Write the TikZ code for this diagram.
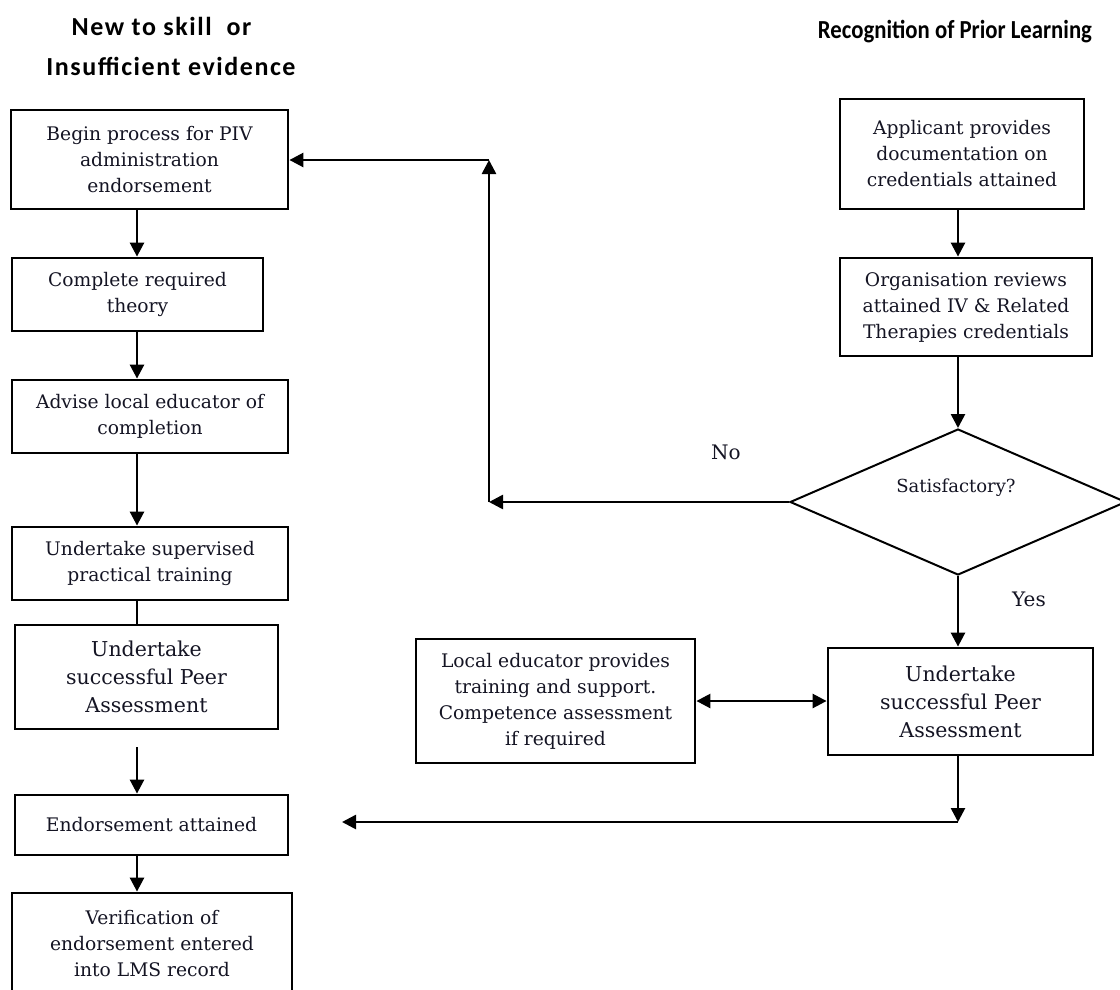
\documentclass[tikz,border=0pt]{standalone}
\usepackage{fontspec}
\setmainfont{DejaVu Serif}
\newfontfamily\titlefont{Carlito}
\newfontfamily\titlefontwide[LetterSpace=6]{Carlito}
\usetikzlibrary{arrows.meta,shapes.geometric}
\definecolor{ink}{RGB}{20,20,35}
\begin{document}
\begin{tikzpicture}[x=1pt,y=-1pt,
  box/.style={draw,line width=2.8pt,rectangle,inner sep=0pt,align=center,text=ink,
    font=\fontsize{18.7}{26}\selectfont},
  bigbox/.style={box,font=\fontsize{20.5}{28}\selectfont},
  conn/.style={line width=2.6pt},
  arr/.style={conn,-{Triangle[length=14pt,width=14pt]}},
  dblarr/.style={conn,{Triangle[length=14pt,width=14pt]}-{Triangle[length=14pt,width=14pt]}},
  lbl/.style={inner sep=0pt,text=ink,font=\fontsize{20}{24}\selectfont},
  decision/.style={draw,diamond,line width=2pt,inner sep=0pt,aspect=2.3}]
\useasboundingbox (0,0) rectangle (1120,989);

% titles
\node[inner sep=0pt,align=center,font=\titlefontwide\bfseries\fontsize{26}{40}\selectfont] (T1) at (171,46)
  {New to skill\ \ or\hspace*{19pt}\\Insufficient evidence};
\node[inner sep=0pt,anchor=base,font=\titlefont\bfseries\fontsize{26}{30}\selectfont] (T2) at (955,38)
  {\scalebox{0.875}[1]{Recognition of Prior Learning}};

% left column
\coordinate (ax) at (137,0);
\node[box,minimum width=277pt,minimum height=99pt] (L1) at (149.5,159.5) {Begin process for PIV\\administration\\endorsement};
\node[box,minimum width=251pt,minimum height=73pt] (L2) at (137.5,294.5) {Complete required\\theory};
\node[box,minimum width=276pt,minimum height=73pt] (L3) at (150,416.5) {Advise local educator of\\completion};
\node[box,minimum width=276pt,minimum height=73pt] (L4) at (150,563.5) {Undertake supervised\\practical training};
\node[bigbox,minimum width=263pt,minimum height=104pt] (L5) at (146.5,677) {Undertake\\successful Peer\\Assessment};
\node[box,minimum width=273pt,minimum height=60pt] (L6) at (151.5,825) {Endorsement attained};
\node[box,minimum width=280pt,minimum height=101pt] (L7) at (152,943.5) {Verification of\\endorsement entered\\into LMS record};

\draw[arr] (L1.south -| ax) -- (L2.north -| ax);
\draw[arr] (L2.south -| ax) -- (L3.north -| ax);
\draw[arr] (L3.south -| ax) -- (L4.north -| ax);
\draw[conn] (L4.south -| ax) -- (L5.north -| ax);
\coordinate (c5) at (137,747);
\draw[arr] (c5) -- (L6.north -| ax);
\draw[arr] (L6.south -| ax) -- (L7.north -| ax);

% right column
\coordinate (bx) at (958,0);
\node[box,minimum width=244pt,minimum height=110pt] (R1) at (962,154) {Applicant provides\\documentation on\\credentials attained};
\node[box,minimum width=252pt,minimum height=98pt] (R2) at (966,307) {Organisation reviews\\attained IV \& Related\\Therapies credentials};
\node[decision,minimum width=336pt,minimum height=146pt] (D) at (958,502) {};
\node[inner sep=0pt,text=ink,font=\fontsize{18}{20}\selectfont] (Dt) at (956,488) {Satisfactory?};
\node[bigbox,minimum width=265pt,minimum height=107pt] (R3) at (960.5,701.5) {Undertake\\successful Peer\\Assessment};
\node[box,minimum width=279pt,minimum height=124pt] (E) at (555.5,701) {Local educator provides\\training and support.\\Competence assessment\\if required};

\draw[arr] (R1.south -| bx) -- (R2.north -| bx);
\draw[arr] (R2.south -| bx) -- (D.north);
\draw[arr] (D.south) -- (R3.north -| bx);
\draw[dblarr] (E.east) -- (R3.west |- E.east);

% No branch
\coordinate (n1) at (489,502);
\coordinate (n2) at (489,160);
\draw[arr] (D.west) -- (n1);
\draw[arr] (n1) -- (n2);
\draw[arr] (n2) -- (L1.east |- n2);

% Yes result to endorsement
\coordinate (y1) at (958,822);
\coordinate (y2) at (342,822);
\draw[arr] (R3.south -| bx) -- (y1);
\draw[arr] (y1) -- (y2);

\node[lbl] (No) at (726,452) {No};
\node[lbl] (Yes) at (1029,599) {Yes};
\end{tikzpicture}
\end{document}
